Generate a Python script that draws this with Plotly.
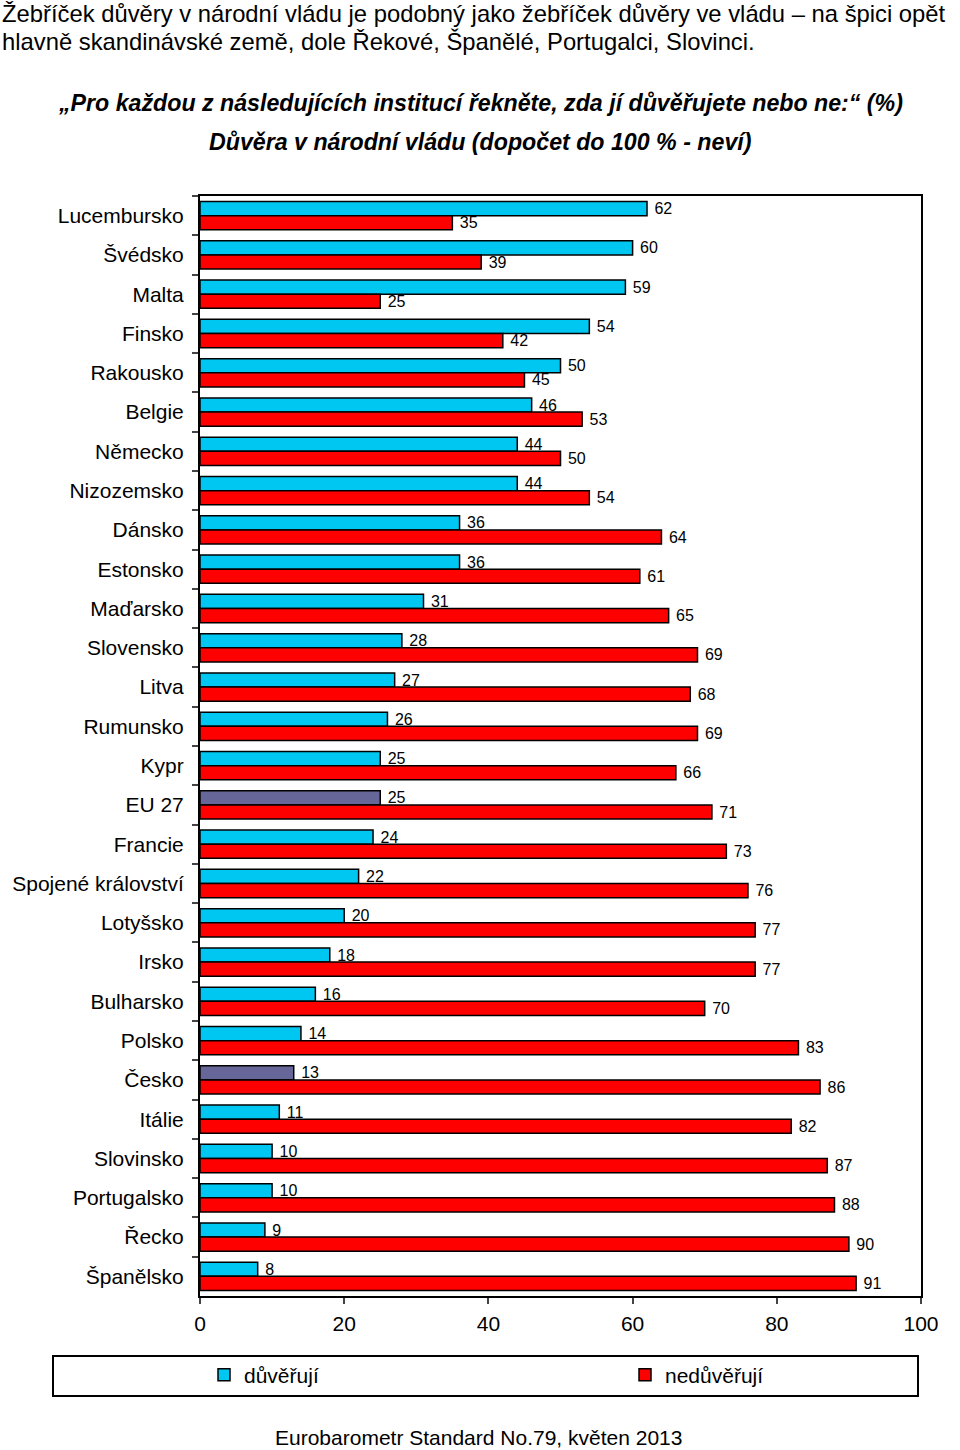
import plotly.graph_objects as go

categories = ["Lucembursko", "Švédsko", "Malta", "Finsko", "Rakousko", "Belgie", "Německo",
              "Nizozemsko", "Dánsko", "Estonsko", "Maďarsko", "Slovensko", "Litva", "Rumunsko",
              "Kypr", "EU 27", "Francie", "Spojené království", "Lotyšsko", "Irsko", "Bulharsko",
              "Polsko", "Česko", "Itálie", "Slovinsko", "Portugalsko", "Řecko", "Španělsko"]
trust = [62, 60, 59, 54, 50, 46, 44, 44, 36, 36, 31, 28, 27, 26, 25, 25, 24, 22, 20, 18, 16,
         14, 13, 11, 10, 10, 9, 8]
distrust = [35, 39, 25, 42, 45, 53, 50, 54, 64, 61, 65, 69, 68, 69, 66, 71, 73, 76, 77, 77, 70,
            83, 86, 82, 87, 88, 90, 91]
x_ticks = [0, 20, 40, 60, 80, 100]

CYAN = "#00C6F2"
RED = "#FF0000"
SLATE = "#666699"
FONT = "Liberation Sans, Arial, sans-serif"

trust_colors = [SLATE if c in ("EU 27", "Česko") else CYAN for c in categories]

W, H = 960, 1450
L, R, T, B = 200, 39, 196, 154
pw, ph = W - L - R, H - T - B


def px_x(px):
    return (px - L) / pw


def px_y(py):
    return (H - B - py) / ph


fig = go.Figure()
fig.add_trace(go.Bar(
    y=categories, x=trust, orientation="h", name="důvěřují", legend="legend",
    marker=dict(color=trust_colors, line=dict(color="black", width=1.5)),
    texttemplate=" %{x}", textposition="outside", cliponaxis=False,
    constraintext="none", textfont=dict(family=FONT, size=16, color="black"),
))
fig.add_trace(go.Bar(
    y=categories, x=distrust, orientation="h", name="nedůvěřují", legend="legend2",
    marker=dict(color=RED, line=dict(color="black", width=1.5)),
    texttemplate=" %{x}", textposition="outside", cliponaxis=False,
    constraintext="none", textfont=dict(family=FONT, size=16, color="black"),
))

leg_common = dict(orientation="h", yanchor="middle", xanchor="left", bgcolor="rgba(0,0,0,0)",
                  font=dict(family=FONT, size=21, color="black"), itemwidth=30,
                  borderwidth=0)

fig.update_layout(
    width=W, height=H,
    margin=dict(l=L, r=R, t=T, b=B, autoexpand=False),
    paper_bgcolor="white", plot_bgcolor="white",
    barmode="group", bargap=0.28, bargroupgap=0,
    font=dict(family=FONT, size=21, color="black"),
    showlegend=True,
    legend=dict(x=px_x(204), y=px_y(1375), **leg_common),
    legend2=dict(x=px_x(625), y=px_y(1375), **leg_common),
)
fig.update_xaxes(range=[0, 100], tickvals=x_ticks, ticks="outside", ticklen=6, tickwidth=1.5,
                 showline=True, linecolor="black", linewidth=2, mirror=True, showgrid=False,
                 zeroline=False, tickfont=dict(size=21), ticklabelstandoff=2, automargin=False)
fig.update_yaxes(autorange="reversed", type="category", tickson="boundaries", ticks="outside",
                 ticklen=6, tickwidth=1.5, showline=True, linecolor="black", linewidth=2,
                 mirror=True, showgrid=False, tickfont=dict(size=21), ticklabelstandoff=10,
                 automargin=False)

# legend frame
fig.add_shape(type="rect", xref="paper", yref="paper", x0=px_x(53), x1=px_x(918),
              y0=px_y(1396), y1=px_y(1356), line=dict(color="black", width=2))

ann = [
    dict(text="Žebříček důvěry v národní vládu je podobný jako žebříček důvěry ve vládu – na špici opět",
         x=px_x(0), y=px_y(14), xanchor="left", yanchor="middle", font=dict(size=23.8)),
    dict(text="hlavně skandinávské země, dole Řekové, Španělé, Portugalci, Slovinci.",
         x=px_x(0), y=px_y(41), xanchor="left", yanchor="middle", font=dict(size=23.8)),
    dict(text="<b><i>„Pro každou z následujících institucí řekněte, zda jí důvěřujete nebo ne:“ (%)</i></b>",
         x=px_x(480), y=px_y(103), xanchor="center", yanchor="middle", font=dict(size=23.2)),
    dict(text="<b><i>Důvěra v národní vládu (dopočet do 100 % - neví)</i></b>",
         x=px_x(480), y=px_y(142), xanchor="center", yanchor="middle", font=dict(size=23.2)),
    dict(text="Eurobarometr Standard No.79, květen 2013",
         x=px_x(478), y=px_y(1437), xanchor="center", yanchor="middle", font=dict(size=21)),
]
for a in ann:
    fig.add_annotation(xref="paper", yref="paper", showarrow=False, **a)

fig.write_html("out.html", config={"displayModeBar": False},
               post_script="document.body.style.margin='0';")
